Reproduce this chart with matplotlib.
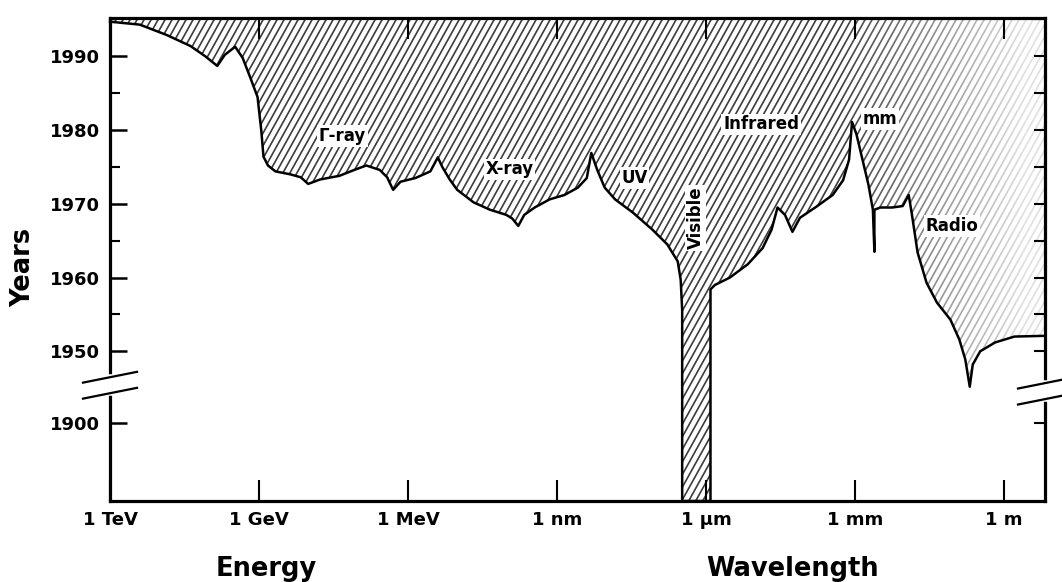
import numpy as np
import matplotlib.pyplot as plt
import matplotlib.transforms as mtransforms
from matplotlib.collections import LineCollection
from matplotlib.patches import Polygon

plt.rcParams['font.family'] = ['DejaVu Sans']
plt.rcParams['font.weight'] = 'bold'

# x axis: one unit per labelled decade step, y axis: years (broken below 1950)
x_ticks = [0, 1, 2, 3, 4, 5, 6]
x_tick_labels = ['1 TeV', '1 GeV', '1 MeV', '1 nm', '1 \u03bcm', '1 mm', '1 m']
y_ticks = [1940.3, 1950, 1960, 1970, 1980, 1990]
y_tick_labels = ['1900', '1950', '1960', '1970', '1980', '1990']
y_minor = [1955, 1965, 1975, 1985]
y_right = [1940.3, 1950, 1955, 1960, 1965, 1970, 1975, 1980, 1985, 1990, 1995]

YMIN, YMAX = 1929.7, 1995.2
XMAX = 6.275

# frontier of the explored region, left to right
edge_x = [0.00, 0.20, 0.38, 0.54, 0.64, 0.72, 0.77, 0.84, 0.89, 0.94,
          0.99, 1.015, 1.03, 1.06, 1.11, 1.21, 1.28, 1.33, 1.41, 1.54,
          1.64, 1.72, 1.81, 1.86, 1.90, 1.95, 2.05, 2.15, 2.20, 2.23,
          2.28, 2.33, 2.44, 2.55, 2.66, 2.70, 2.74, 2.78, 2.85, 2.95,
          3.05, 3.14, 3.20, 3.23, 3.27, 3.32, 3.39, 3.51, 3.64, 3.74,
          3.81, 3.83, 3.84, 3.84, 4.03, 4.03, 4.06, 4.16, 4.28, 4.38,
          4.44, 4.48, 4.53, 4.58, 4.63, 4.74, 4.85, 4.92, 4.96, 4.98,
          5.01, 5.05, 5.09, 5.12, 5.13, 5.13, 5.17, 5.25, 5.32, 5.36,
          5.38, 5.42, 5.48, 5.55, 5.64, 5.70, 5.74, 5.77, 5.79, 5.84,
          5.94, 6.07, 6.275]
edge_y = [1994.7, 1994.3, 1992.9, 1991.4, 1990.0, 1988.7, 1990.2, 1991.3, 1989.8, 1987.2,
          1984.5, 1980.0, 1976.4, 1975.2, 1974.4, 1974.0, 1973.6, 1972.7, 1973.3, 1973.8,
          1974.6, 1975.2, 1974.6, 1973.6, 1971.9, 1973.0, 1973.5, 1974.4, 1976.3, 1975.0,
          1973.3, 1971.9, 1970.2, 1969.2, 1968.5, 1968.0, 1967.0, 1968.5, 1969.5, 1970.6,
          1971.2, 1972.2, 1973.5, 1976.9, 1974.6, 1972.2, 1970.6, 1968.8, 1966.5, 1964.5,
          1962.2, 1959.7, 1955.6, YMIN, YMIN, 1958.4, 1959.0, 1960.0, 1961.8, 1964.0,
          1966.5, 1969.5, 1968.5, 1966.2, 1968.1, 1969.6, 1971.2, 1973.2, 1976.0, 1981.1,
          1979.4, 1976.0, 1972.6, 1969.2, 1963.5, 1969.2, 1969.5, 1969.5, 1969.7, 1971.2,
          1968.8, 1963.4, 1959.3, 1956.6, 1954.3, 1951.6, 1948.9, 1945.2, 1948.2, 1950.0,
          1951.2, 1952.0, 1952.1]

band_names = ['\u0393-ray', 'X-ray', 'UV', 'Visible', 'Infrared', 'mm', 'Radio']
band_x = [1.56, 2.68, 3.52, 3.93, 4.37, 5.17, 5.65]
band_y = [1979.2, 1974.7, 1973.5, 1968.1, 1980.8, 1981.5, 1967.0]
band_rot = [0, 0, 0, 90, 0, 0, 0]

group_names = ['Energy', 'Wavelength']
group_x = [1.05, 4.58]

fig = plt.figure(figsize=(10.62, 5.82), dpi=100)
W_px, H_px = 935, 483
ax = fig.add_axes([110 / 1062, 1 - 501 / 582, W_px / 1062, H_px / 582])
ax.set_xlim(0, XMAX)
ax.set_ylim(YMIN, YMAX)

# unexplored region: polygon from the frontier up to the top
px = list(edge_x) + [XMAX, 0]
py = list(edge_y) + [YMAX + 5, YMAX + 5]
region = Polygon(np.column_stack([px, py]), closed=True, facecolor='none',
                 edgecolor='none', transform=ax.transData)
ax.add_patch(region)

# steep diagonal hatching clipped to the region
slope, step = 1.8, 7
offsets = np.arange(-H_px / slope, W_px, step)
segs = [[(o / W_px, 0), ((o + H_px / slope) / W_px, 1)] for o in offsets]
lc = LineCollection(segs, colors='#3c3c3c', linewidths=1.2,
                    transform=ax.transAxes, zorder=1)
lc.set_clip_path(region)
ax.add_collection(lc)

# hatching fades out towards the radio end
ramp = np.clip((np.linspace(0, 1, 400) - 0.78) / 0.20, 0, 1) * 0.85
img = np.ones((2, 400, 4))
img[..., 3] = ramp
im = ax.imshow(img, extent=[0, 1, 0, 1], transform=ax.transAxes,
               aspect='auto', interpolation='bilinear', zorder=1.5)
im.set_clip_path(region)

ax.plot(edge_x, edge_y, color='black', lw=1.8, zorder=3,
        solid_joinstyle='round', clip_on=False)

for name, x, y, r in zip(band_names, band_x, band_y, band_rot):
    ax.text(x, y, name, ha='center', va='center', rotation=r, fontsize=12,
            bbox=dict(facecolor='white', edgecolor='none', pad=1.2), zorder=4)

ax.set_xlim(0, XMAX)
ax.set_ylim(YMIN, YMAX)

ax.set_xticks(x_ticks, x_tick_labels)
ax.tick_params(axis='x', direction='in', length=15, width=1.5, top=True,
               labelsize=13, pad=7)
ax.set_yticks(y_ticks, y_tick_labels)
ax.set_yticks(y_minor, minor=True)
ax.tick_params(axis='y', which='major', direction='in', length=12, width=1.8,
               labelsize=13, pad=7)
ax.tick_params(axis='y', which='minor', direction='in', length=7, width=1.5)
for s in ax.spines.values():
    s.set_linewidth(2.3)

ax2 = ax.twinx()
ax2.set_ylim(YMIN, YMAX)
ax2.set_yticks(y_right)
ax2.tick_params(axis='y', direction='in', length=8, width=1.5, labelright=False)
for s in ax2.spines.values():
    s.set_visible(False)

# axis break marks
def draw_break(x_ax, y_ax):
    dx, dy, gap = 27 / W_px, 5.4 / H_px, 8 / H_px
    ax.plot([x_ax, x_ax], [y_ax - gap, y_ax + gap], color='white', lw=4,
            transform=ax.transAxes, clip_on=False, zorder=6)
    for sgn in (-1, 1):
        yc = y_ax + sgn * gap
        ax.plot([x_ax - dx, x_ax + dx], [yc - dy, yc + dy], color='black',
                lw=1.6, transform=ax.transAxes, clip_on=False, zorder=7)

draw_break(0, (1945.4 - YMIN) / (YMAX - YMIN))
draw_break(1, (1944.6 - YMIN) / (YMAX - YMIN))

blend = mtransforms.blended_transform_factory(ax.transData, ax.transAxes)
for name, x in zip(group_names, group_x):
    ax.text(x, -0.155, name, transform=blend, ha='center', va='baseline',
            fontsize=18.5)

fig.text(23 / 1062, 1 - 267 / 582, 'Years', rotation=90, ha='center',
         va='center', fontsize=18.5)

fig.savefig('out.png', dpi=100)
